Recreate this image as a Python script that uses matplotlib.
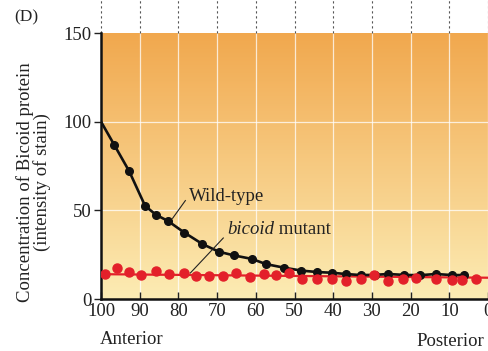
import numpy as np
import matplotlib.pyplot as plt

plt.rcParams['font.family'] = ['Liberation Serif', 'DejaVu Serif']

# position along embryo (% egg length) and stain intensity
wt_x = [100, 96.6, 92.7, 88.6, 85.8, 82.7, 78.5, 73.8, 69.6, 65.7, 61, 57.4, 52.8,
        48.2, 44.1, 40.3, 36.8, 32.9, 29.3, 25.8, 21.8, 17.6, 13.5, 9.4, 6.3]
wt_y = [100, 87, 72, 52.5, 47.5, 44, 37.5, 31, 26.7, 24.6, 22.6, 19.7, 17.7,
        16, 15.2, 14.8, 14.1, 13.5, 13.6, 14.1, 13.6, 13.4, 14.1, 13.5, 13.5]

mut_x = [99, 95.8, 92.7, 89.7, 85.8, 82.3, 78.5, 75.4, 72.2, 68.6, 65, 61.6, 58,
         54.7, 51.3, 48.1, 44.2, 40.4, 36.8, 32.9, 29.5, 25.8, 21.9, 18.5, 13.5,
         9.4, 6.8, 3.2]
mut_y = [13.9, 17.7, 15.4, 13.5, 15.8, 14.3, 14.8, 13.1, 13, 13.1, 14.7, 12.6, 14.1,
         13.4, 14.5, 11.5, 11.4, 11.4, 10.2, 11.3, 13.7, 10.3, 11.3, 11.7, 11.3,
         10.7, 10.7, 11.4]
# red trend line under the mutant dots
mut_line_x = [100, 50, 0]
mut_line_y = [14, 13, 12]

xticks = [100, 90, 80, 70, 60, 50, 40, 30, 20, 10, 0]
yticks = [0, 50, 100, 150]

fig = plt.figure(figsize=(4.88, 3.51), dpi=100)
ax = fig.add_axes([101 / 488, 1 - 299 / 351, 387 / 488, 266 / 351])
ax.set_xlim(100, 0)
ax.set_ylim(0, 150)

# orange-to-pale background gradient
top = np.array([241, 168, 78]) / 255
bot = np.array([252, 236, 180]) / 255
t = np.linspace(0, 1, 200)[:, None]
grad = top * (1 - t) + bot * t
grad = np.repeat(grad[:, None, :], 2, axis=1)
ax.imshow(grad, extent=(100, 0, 0, 150), aspect='auto', zorder=0)

for xv in xticks:
    ax.axvline(xv, color='white', lw=0.9, alpha=0.75, zorder=1)
for yv in [50, 100]:
    ax.axhline(yv, color='white', lw=0.9, alpha=0.75, zorder=1)
# dashed guide lines above the plot
ax.vlines(xticks, 150, 170, colors='#555555', linestyles=(0, (2, 2.5)), lw=0.8,
          clip_on=False)

ax.plot(mut_line_x, mut_line_y, color='#e3202a', lw=1.6, zorder=2)
ax.plot(wt_x, wt_y, color='#111111', lw=1.9, marker='o', ms=5.5,
        markevery=list(range(1, len(wt_x))), zorder=3)
ax.plot(mut_x, mut_y, ls='none', marker='o', ms=6.5, color='#e3202a', zorder=4)

ax.set_xticks(xticks)
ax.set_yticks(yticks)
ax.tick_params(axis='x', direction='in', length=5, width=1, labelsize=13.5,
               colors='#222222', pad=3)
ax.tick_params(axis='y', direction='out', length=5, width=1, labelsize=13.5,
               colors='#222222', pad=2)
for s in ['top', 'right']:
    ax.spines[s].set_visible(False)
for s in ['left', 'bottom']:
    ax.spines[s].set_linewidth(1.8)
    ax.spines[s].set_color('#111111')

ax.plot([81.5, 78.2], [45.5, 55.5], color='#222222', lw=0.8, zorder=5)
ax.text(77.3, 58, 'Wild-type', fontsize=13.5, color='#222222', va='center', ha='left')
ax.plot([76.9, 68.4], [14.7, 34.4], color='#222222', lw=0.8, zorder=5)
t1 = ax.text(67.4, 39, 'bicoid', fontsize=13.5, style='italic', color='#222222',
             va='center', ha='left')
ax.annotate(' mutant', xy=(1, 0), xycoords=t1, va='bottom', ha='left',
            fontsize=13.5, color='#222222')

fig.text(25 / 488, 1 - 182 / 351, 'Concentration of Bicoid protein', rotation=90,
         fontsize=13.5, color='#222222', ha='center', va='center')
fig.text(42.5 / 488, 1 - 182 / 351, '(intensity of stain)', rotation=90,
         fontsize=13.5, color='#222222', ha='center', va='center')
fig.text(100 / 488, 1 - 340 / 351, 'Anterior', fontsize=13.5, color='#222222',
         ha='left', va='center')
fig.text(484 / 488, 1 - 342 / 351, 'Posterior', fontsize=13.5, color='#222222',
         ha='right', va='center')
fig.text(26 / 488, 1 - 17 / 351, '(D)', fontsize=12.5, color='#222222',
         ha='center', va='center')

fig.savefig('out.png', dpi=100)
